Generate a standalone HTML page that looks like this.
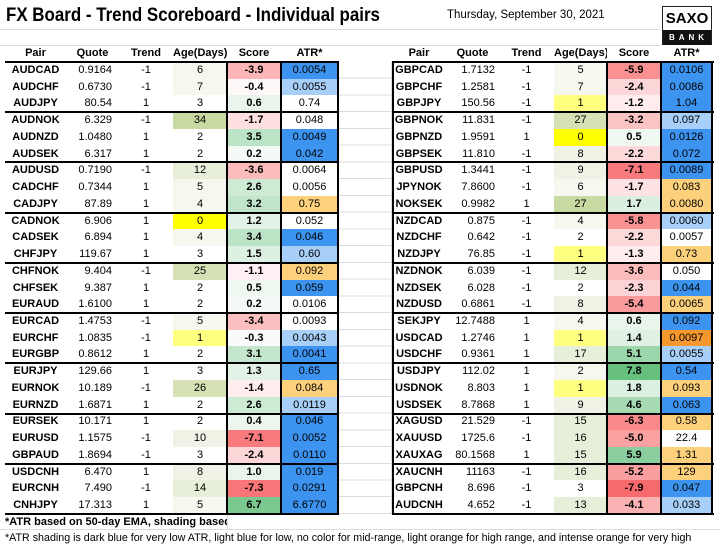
<!DOCTYPE html>
<html><head><meta charset="utf-8">
<style>
*{margin:0;padding:0;box-sizing:border-box}
body{width:720px;height:548px;background:#fff;font-family:"Liberation Sans",Arial,sans-serif;color:#000;position:relative;overflow:hidden}
.title{position:absolute;left:6px;top:5px;font-size:19px;font-weight:bold;white-space:nowrap;transform:scaleX(0.89);transform-origin:left top}
.date{position:absolute;left:447px;top:9px;font-size:11.5px;white-space:nowrap}
.logo{position:absolute;left:662px;top:6px;width:50px;height:39px;border:1px solid #222}
.logo .s{height:23px;font-weight:bold;font-size:15px;text-align:center;line-height:23px}
.logo .b{height:15px;background:#111;color:#fff;font-weight:bold;font-size:8px;letter-spacing:4px;text-align:center;line-height:15px;padding-left:3px}
.hgrid{position:absolute;left:0;width:720px;height:1px;background:#dcdcdc}
.gap{position:absolute;left:338px;top:62px;width:54px;height:452px;border-left:1px solid #dcdcdc;border-right:1px solid #dcdcdc;
background:repeating-linear-gradient(to bottom,transparent 0,transparent 15.74px,#dcdcdc 15.74px,#dcdcdc 16.74px)}
table{position:absolute;border-collapse:collapse;border:0;table-layout:fixed;font-size:11px}
td,th{padding:0;border:0;height:16.74px;line-height:16.74px;text-align:center;white-space:nowrap;overflow:hidden}
th{font-weight:bold;height:17px;line-height:17px}
td.p{font-weight:bold}
td.q{text-align:right;padding-right:7px}
#rt td.q{padding-right:4px}
td.s{font-weight:bold}
.B{background:#3c93f0}.L{background:#a8cff8}.O{background:#fdd17c}.I{background:#f7982f}
.y{background:#ffff00}.ly{background:#ffff80}.a1{background:#c8d9a1}.a2{background:#d6e1b6}.a3{background:#e7eed9}.a4{background:#eef3e5}.a5{background:#f6f8f0}
#lt{left:5px;top:45px;width:333px}
#rt{left:392px;top:45px;width:320px}
.hl{position:absolute;height:2px;background:#000}
.vl{position:absolute;width:2px;top:62px;height:453px;background:#000}
.f1{position:absolute;left:5px;top:515px;width:223px;font-size:11px;font-weight:bold;white-space:nowrap;overflow:hidden;line-height:15px;border-right:1px solid #dcdcdc}
.f2{position:absolute;left:5px;top:531px;font-size:10.7px;white-space:nowrap;line-height:15px}
</style></head><body>
<div class="title">FX Board - Trend Scoreboard - Individual pairs</div>
<div class="date">Thursday, September 30, 2021</div>
<div class="logo"><div class="s">SAXO</div><div class="b">BANK</div></div>
<div class="hgrid" style="top:29px;width:660px"></div>
<div class="hgrid" style="top:45px;width:660px"></div>
<div class="hgrid" style="top:529px"></div>
<div class="gap"></div>

<table id="lt">
<colgroup><col style="width:61px"><col style="width:53px"><col style="width:54px"><col style="width:54px"><col style="width:54px"><col style="width:57px"></colgroup>
<thead><tr><th>Pair</th><th>Quote</th><th>Trend</th><th>Age(Days)</th><th>Score</th><th>ATR*</th></tr></thead>
<tbody>
<tr><td class="p">AUDCAD</td><td class="q">0.9164</td><td>-1</td><td class="a5">6</td><td class="s" style="background:rgb(252,182,183)">-3.9</td><td class="B">0.0054</td></tr>
<tr><td class="p">AUDCHF</td><td class="q">0.6730</td><td>-1</td><td class="a5">7</td><td class="s" style="background:rgb(255,248,248)">-0.4</td><td class="L">0.0055</td></tr>
<tr><td class="p">AUDJPY</td><td class="q">80.54</td><td>1</td><td>3</td><td class="s" style="background:rgb(232,244,236)">0.6</td><td>0.74</td></tr>
<tr><td class="p">AUDNOK</td><td class="q">6.329</td><td>-1</td><td class="a1">34</td><td class="s" style="background:rgb(254,223,224)">-1.7</td><td>0.048</td></tr>
<tr><td class="p">AUDNZD</td><td class="q">1.0480</td><td>1</td><td>2</td><td class="s" style="background:rgb(187,227,197)">3.5</td><td class="B">0.0049</td></tr>
<tr><td class="p">AUDSEK</td><td class="q">6.317</td><td>1</td><td>2</td><td class="s" style="background:rgb(245,250,246)">0.2</td><td class="B">0.042</td></tr>
<tr><td class="p">AUDUSD</td><td class="q">0.7190</td><td>-1</td><td class="a3">12</td><td class="s" style="background:rgb(252,188,188)">-3.6</td><td>0.0064</td></tr>
<tr><td class="p">CADCHF</td><td class="q">0.7344</td><td>1</td><td class="a5">5</td><td class="s" style="background:rgb(204,234,212)">2.6</td><td>0.0056</td></tr>
<tr><td class="p">CADJPY</td><td class="q">87.89</td><td>1</td><td class="a5">4</td><td class="s" style="background:rgb(193,229,202)">3.2</td><td class="O">0.75</td></tr>
<tr><td class="p">CADNOK</td><td class="q">6.906</td><td>1</td><td class="y">0</td><td class="s" style="background:rgb(226,242,230)">1.2</td><td>0.052</td></tr>
<tr><td class="p">CADSEK</td><td class="q">6.894</td><td>1</td><td class="a5">4</td><td class="s" style="background:rgb(189,227,199)">3.4</td><td class="B">0.046</td></tr>
<tr><td class="p">CHFJPY</td><td class="q">119.67</td><td>1</td><td>3</td><td class="s" style="background:rgb(222,240,226)">1.5</td><td class="L">0.60</td></tr>
<tr><td class="p">CHFNOK</td><td class="q">9.404</td><td>-1</td><td class="a2">25</td><td class="s" style="background:rgb(254,240,242)">-1.1</td><td class="O">0.092</td></tr>
<tr><td class="p">CHFSEK</td><td class="q">9.387</td><td>1</td><td>2</td><td class="s" style="background:rgb(240,248,242)">0.5</td><td class="B">0.059</td></tr>
<tr><td class="p">EURAUD</td><td class="q">1.6100</td><td>1</td><td>2</td><td class="s" style="background:rgb(245,250,246)">0.2</td><td>0.0106</td></tr>
<tr><td class="p">EURCAD</td><td class="q">1.4753</td><td>-1</td><td class="a5">5</td><td class="s" style="background:rgb(252,191,192)">-3.4</td><td>0.0093</td></tr>
<tr><td class="p">EURCHF</td><td class="q">1.0835</td><td>-1</td><td class="ly">1</td><td class="s" style="background:rgb(248,250,251)">-0.3</td><td class="L">0.0043</td></tr>
<tr><td class="p">EURGBP</td><td class="q">0.8612</td><td>1</td><td>2</td><td class="s" style="background:rgb(195,230,204)">3.1</td><td class="B">0.0041</td></tr>
<tr><td class="p">EURJPY</td><td class="q">129.66</td><td>1</td><td>3</td><td class="s" style="background:rgb(226,242,230)">1.3</td><td class="B">0.65</td></tr>
<tr><td class="p">EURNOK</td><td class="q">10.189</td><td>-1</td><td class="a2">26</td><td class="s" style="background:rgb(254,236,238)">-1.4</td><td class="O">0.084</td></tr>
<tr><td class="p">EURNZD</td><td class="q">1.6871</td><td>1</td><td>2</td><td class="s" style="background:rgb(204,234,212)">2.6</td><td class="L">0.0119</td></tr>
<tr><td class="p">EURSEK</td><td class="q">10.171</td><td>1</td><td>2</td><td class="s" style="background:rgb(236,246,239)">0.4</td><td class="B">0.046</td></tr>
<tr><td class="p">EURUSD</td><td class="q">1.1575</td><td>-1</td><td class="a4">10</td><td class="s" style="background:rgb(249,122,124)">-7.1</td><td class="B">0.0052</td></tr>
<tr><td class="p">GBPAUD</td><td class="q">1.8694</td><td>-1</td><td>3</td><td class="s" style="background:rgb(253,214,216)">-2.4</td><td class="B">0.0110</td></tr>
<tr><td class="p">USDCNH</td><td class="q">6.470</td><td>1</td><td class="a4">8</td><td class="s" style="background:rgb(232,244,236)">1.0</td><td class="B">0.019</td></tr>
<tr><td class="p">EURCNH</td><td class="q">7.490</td><td>-1</td><td class="a3">14</td><td class="s" style="background:rgb(249,118,120)">-7.3</td><td class="B">0.0291</td></tr>
<tr><td class="p">CNHJPY</td><td class="q">17.313</td><td>1</td><td class="a5">5</td><td class="s" style="background:rgb(124,201,144)">6.7</td><td class="B">6.6770</td></tr>
</tbody></table>

<table id="rt">
<colgroup><col style="width:54px"><col style="width:53px"><col style="width:55px"><col style="width:53px"><col style="width:54px"><col style="width:51px"></colgroup>
<thead><tr><th>Pair</th><th>Quote</th><th>Trend</th><th>Age(Days)</th><th>Score</th><th>ATR*</th></tr></thead>
<tbody>
<tr><td class="p">GBPCAD</td><td class="q">1.7132</td><td>-1</td><td class="a5">5</td><td class="s" style="background:rgb(250,144,146)">-5.9</td><td class="B">0.0106</td></tr>
<tr><td class="p">GBPCHF</td><td class="q">1.2581</td><td>-1</td><td class="a5">7</td><td class="s" style="background:rgb(253,214,216)">-2.4</td><td class="B">0.0086</td></tr>
<tr><td class="p">GBPJPY</td><td class="q">150.56</td><td>-1</td><td class="ly">1</td><td class="s" style="background:rgb(254,236,238)">-1.2</td><td class="B">1.04</td></tr>
<tr><td class="p">GBPNOK</td><td class="q">11.831</td><td>-1</td><td class="a2">27</td><td class="s" style="background:rgb(252,195,196)">-3.2</td><td class="L">0.097</td></tr>
<tr><td class="p">GBPNZD</td><td class="q">1.9591</td><td>1</td><td class="y">0</td><td class="s" style="background:rgb(240,248,242)">0.5</td><td class="B">0.0126</td></tr>
<tr><td class="p">GBPSEK</td><td class="q">11.810</td><td>-1</td><td class="a4">8</td><td class="s" style="background:rgb(253,216,217)">-2.2</td><td class="B">0.072</td></tr>
<tr><td class="p">GBPUSD</td><td class="q">1.3441</td><td>-1</td><td class="a4">9</td><td class="s" style="background:rgb(249,122,124)">-7.1</td><td class="B">0.0089</td></tr>
<tr><td class="p">JPYNOK</td><td class="q">7.8600</td><td>-1</td><td class="a5">6</td><td class="s" style="background:rgb(254,226,227)">-1.7</td><td class="O">0.083</td></tr>
<tr><td class="p">NOKSEK</td><td class="q">0.9982</td><td>1</td><td class="a1">27</td><td class="s" style="background:rgb(218,239,224)">1.7</td><td class="O">0.0080</td></tr>
<tr><td class="p">NZDCAD</td><td class="q">0.875</td><td>-1</td><td class="a5">4</td><td class="s" style="background:rgb(250,146,148)">-5.8</td><td class="L">0.0060</td></tr>
<tr><td class="p">NZDCHF</td><td class="q">0.642</td><td>-1</td><td>2</td><td class="s" style="background:rgb(253,216,217)">-2.2</td><td>0.0057</td></tr>
<tr><td class="p">NZDJPY</td><td class="q">76.85</td><td>-1</td><td class="ly">1</td><td class="s" style="background:rgb(254,236,238)">-1.3</td><td class="O">0.73</td></tr>
<tr><td class="p">NZDNOK</td><td class="q">6.039</td><td>-1</td><td class="a3">12</td><td class="s" style="background:rgb(252,188,188)">-3.6</td><td>0.050</td></tr>
<tr><td class="p">NZDSEK</td><td class="q">6.028</td><td>-1</td><td>2</td><td class="s" style="background:rgb(253,212,213)">-2.3</td><td class="B">0.044</td></tr>
<tr><td class="p">NZDUSD</td><td class="q">0.6861</td><td>-1</td><td class="a4">8</td><td class="s" style="background:rgb(250,154,155)">-5.4</td><td class="O">0.0065</td></tr>
<tr><td class="p">SEKJPY</td><td class="q">12.7488</td><td>1</td><td class="a5">4</td><td class="s" style="background:rgb(232,244,236)">0.6</td><td class="B">0.092</td></tr>
<tr><td class="p">USDCAD</td><td class="q">1.2746</td><td>1</td><td class="ly">1</td><td class="s" style="background:rgb(224,241,228)">1.4</td><td class="I">0.0097</td></tr>
<tr><td class="p">USDCHF</td><td class="q">0.9361</td><td>1</td><td class="a3">17</td><td class="s" style="background:rgb(156,214,171)">5.1</td><td class="L">0.0055</td></tr>
<tr><td class="p">USDJPY</td><td class="q">112.02</td><td>1</td><td class="a5">2</td><td class="s" style="background:rgb(103,192,126)">7.8</td><td class="B">0.54</td></tr>
<tr><td class="p">USDNOK</td><td class="q">8.803</td><td>1</td><td class="ly">1</td><td class="s" style="background:rgb(220,240,225)">1.8</td><td class="O">0.093</td></tr>
<tr><td class="p">USDSEK</td><td class="q">8.7868</td><td>1</td><td class="a4">9</td><td class="s" style="background:rgb(165,218,179)">4.6</td><td class="B">0.063</td></tr>
<tr><td class="p">XAGUSD</td><td class="q">21.529</td><td>-1</td><td class="a3">15</td><td class="s" style="background:rgb(249,137,138)">-6.3</td><td class="O">0.58</td></tr>
<tr><td class="p">XAUUSD</td><td class="q">1725.6</td><td>-1</td><td class="a3">16</td><td class="s" style="background:rgb(251,161,162)">-5.0</td><td>22.4</td></tr>
<tr><td class="p">XAUXAG</td><td class="q">80.1568</td><td>1</td><td class="a3">15</td><td class="s" style="background:rgb(140,207,158)">5.9</td><td class="O">1.31</td></tr>
<tr><td class="p">XAUCNH</td><td class="q">11163</td><td>-1</td><td class="a3">16</td><td class="s" style="background:rgb(250,158,159)">-5.2</td><td class="O">129</td></tr>
<tr><td class="p">GBPCNH</td><td class="q">8.696</td><td>-1</td><td>3</td><td class="s" style="background:rgb(248,107,109)">-7.9</td><td class="B">0.047</td></tr>
<tr><td class="p">AUDCNH</td><td class="q">4.652</td><td>-1</td><td class="a3">13</td><td class="s" style="background:rgb(251,178,179)">-4.1</td><td class="L">0.033</td></tr>
</tbody></table>

<!-- horizontal group lines -->
<div class="hl" style="left:5px;width:334px;top:61px"></div><div class="hl" style="left:392px;width:322px;top:61px"></div>
<div class="hl" style="left:5px;width:334px;top:111px"></div><div class="hl" style="left:392px;width:322px;top:111px"></div>
<div class="hl" style="left:5px;width:334px;top:161px"></div><div class="hl" style="left:392px;width:322px;top:161px"></div>
<div class="hl" style="left:5px;width:334px;top:212px"></div><div class="hl" style="left:392px;width:322px;top:212px"></div>
<div class="hl" style="left:5px;width:334px;top:262px"></div><div class="hl" style="left:392px;width:322px;top:262px"></div>
<div class="hl" style="left:5px;width:334px;top:312px"></div><div class="hl" style="left:392px;width:322px;top:312px"></div>
<div class="hl" style="left:5px;width:334px;top:362px"></div><div class="hl" style="left:392px;width:322px;top:362px"></div>
<div class="hl" style="left:5px;width:334px;top:413px"></div><div class="hl" style="left:392px;width:322px;top:413px"></div>
<div class="hl" style="left:5px;width:334px;top:463px"></div><div class="hl" style="left:392px;width:322px;top:463px"></div>
<div class="hl" style="left:5px;width:334px;top:513px"></div><div class="hl" style="left:392px;width:322px;top:513px"></div>
<!-- vertical lines -->
<div class="vl" style="left:226px"></div><div class="vl" style="left:280px"></div><div class="vl" style="left:337px"></div>
<div class="vl" style="left:392px"></div><div class="vl" style="left:606px"></div><div class="vl" style="left:660px"></div><div class="vl" style="left:711px"></div>

<div class="f1">*ATR based on 50-day EMA, shading based on co</div>
<div class="f2">*ATR shading is dark blue for very low ATR, light blue for low, no color for mid-range, light orange for high range, and intense orange for very high</div>
</body></html>
